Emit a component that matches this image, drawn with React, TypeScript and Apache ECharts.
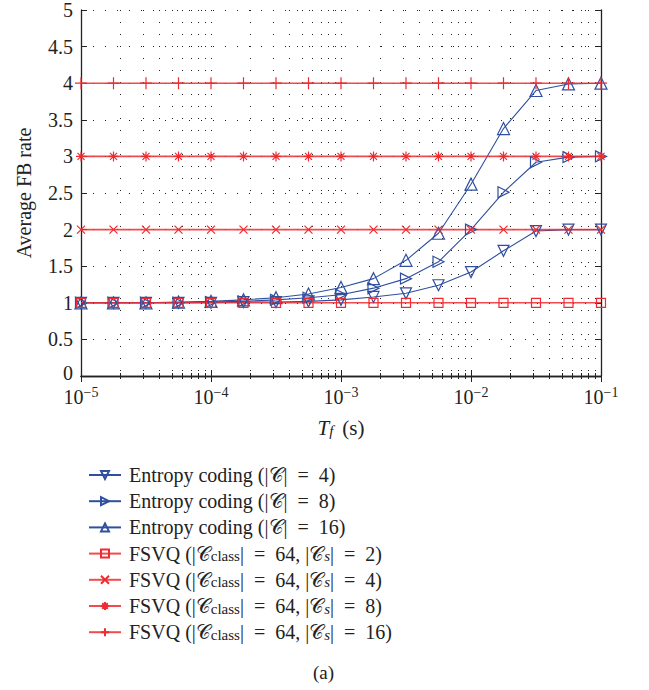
import React, { useEffect, useRef } from "react";
import * as echarts from "echarts";

// T_f (s): quarter-decade sample points
const tfValues = [
  1e-5, 1.778e-5, 3.162e-5, 5.623e-5,
  1e-4, 1.778e-4, 3.162e-4, 5.623e-4,
  1e-3, 1.778e-3, 3.162e-3, 5.623e-3,
  1e-2, 1.778e-2, 3.162e-2, 5.623e-2,
  1e-1,
];

const entropy4 = [1.0, 1.0, 1.0, 1.0, 1.0, 1.01, 1.01, 1.02, 1.04, 1.08, 1.13, 1.24, 1.42, 1.71, 1.98, 2.0, 2.0];
const entropy8 = [1.0, 1.0, 1.0, 1.0, 1.01, 1.02, 1.04, 1.07, 1.11, 1.2, 1.33, 1.56, 2.0, 2.51, 2.92, 2.99, 3.0];
const entropy16 = [1.0, 1.0, 1.0, 1.01, 1.02, 1.04, 1.07, 1.12, 1.21, 1.33, 1.58, 1.95, 2.62, 3.38, 3.9, 3.99, 4.0];
const fsvq2 = [1, 1, 1, 1, 1, 1, 1, 1, 1, 1, 1, 1, 1, 1, 1, 1, 1];
const fsvq4 = [2, 2, 2, 2, 2, 2, 2, 2, 2, 2, 2, 2, 2, 2, 2, 2, 2];
const fsvq8 = [3, 3, 3, 3, 3, 3, 3, 3, 3, 3, 3, 3, 3, 3, 3, 3, 3];
const fsvq16 = [4, 4, 4, 4, 4, 4, 4, 4, 4, 4, 4, 4, 4, 4, 4, 4, 4];

const seriesNames = [
  "Entropy coding (|𝒞| = 4)",
  "Entropy coding (|𝒞| = 8)",
  "Entropy coding (|𝒞| = 16)",
  "FSVQ (|𝒞class| = 64, |𝒞s| = 2)",
  "FSVQ (|𝒞class| = 64, |𝒞s| = 4)",
  "FSVQ (|𝒞class| = 64, |𝒞s| = 8)",
  "FSVQ (|𝒞class| = 64, |𝒞s| = 16)",
];
const legendRich = [
  "{n|Entropy coding (|𝒞| }{eq|=}{n| 4)}",
  "{n|Entropy coding (|𝒞| }{eq|=}{n| 8)}",
  "{n|Entropy coding (|𝒞| }{eq|=}{n| 16)}",
  "{n|FSVQ (|𝒞}{sub|class}{n|| }{eq|=}{n| 64, |𝒞}{subi|s}{n|| }{eq|=}{n| 2)}",
  "{n|FSVQ (|𝒞}{sub|class}{n|| }{eq|=}{n| 64, |𝒞}{subi|s}{n|| }{eq|=}{n| 4)}",
  "{n|FSVQ (|𝒞}{sub|class}{n|| }{eq|=}{n| 64, |𝒞}{subi|s}{n|| }{eq|=}{n| 8)}",
  "{n|FSVQ (|𝒞}{sub|class}{n|| }{eq|=}{n| 64, |𝒞}{subi|s}{n|| }{eq|=}{n| 16)}",
];

const BLUE = "#2f4f9f";
const RED = "#ee2b30";
const INK = "#222";
const SERIF = "'Liberation Serif', 'DejaVu Serif', serif";

const SYM_DOWN = "path://M0,0L10,0L5,9Z";
const SYM_RIGHT = "path://M0,0L9,5L0,10Z";
const SYM_X = "path://M0,0L10,10M10,0L0,10";
const SYM_STAR = "path://M5,0L5,10M0,5L10,5M1.5,1.5L8.5,8.5M8.5,1.5L1.5,8.5";
const SYM_PLUS = "path://M5,0L5,10M0,5L10,5";

function mkSeries(name: string, vals: number[], color: string, symbol: string, size: number, lw: number, opacity: number) {
  return {
    name,
    type: "line",
    data: tfValues.map((x, i) => [x, vals[i]]),
    symbol,
    symbolSize: size,
    showSymbol: true,
    lineStyle: { color, width: lw, opacity },
    itemStyle: { color: "rgba(255,255,255,0)", borderColor: color, borderWidth: 1.2 },
    emphasis: { disabled: true },
  };
}

export default function App() {
  const ref = useRef<HTMLDivElement>(null);
  useEffect(() => {
    if (!ref.current) return;
    const chart = echarts.init(ref.current, undefined, { renderer: "svg" });
    const dotted = { color: INK, width: 1, type: [1, 11] as any };
    const supLabel = (v: number) => {
      const e = Math.round(Math.log10(v));
      return `{b|10}{s|−${Math.abs(e)}}`;
    };
    chart.setOption({
      animation: false,
      grid: { left: 81, right: 48, top: 6, bottom: 314, containLabel: false },
      xAxis: [
        {
          type: "log",
          logBase: 10,
          min: 1e-5,
          max: 1e-1,
          interval: 1,
          position: "bottom",
          axisLine: { lineStyle: { color: INK, width: 1.3 } },
          axisTick: { inside: true, length: 6, lineStyle: { color: INK } },
          minorTick: { show: true, splitNumber: 9, length: 3, lineStyle: { color: INK } },
          splitLine: { show: true, lineStyle: dotted },
          minorSplitLine: { show: true, lineStyle: dotted },
          axisLabel: {
            formatter: supLabel,
            margin: 9,
            rich: {
              b: { fontFamily: SERIF, fontSize: 20, color: INK, lineHeight: 22, verticalAlign: "bottom" },
              s: { fontFamily: SERIF, fontSize: 14, color: INK, lineHeight: 14, verticalAlign: "top" },
            },
          },
          name: "{i|T}{f|f}{n|(s)}",
          nameLocation: "middle",
          nameGap: 40,
          nameTextStyle: {
            rich: {
              i: { fontFamily: SERIF, fontStyle: "italic", fontSize: 21, color: INK, lineHeight: 22, verticalAlign: "bottom" },
              f: { fontFamily: SERIF, fontStyle: "italic", fontSize: 15, color: INK, lineHeight: 10, verticalAlign: "bottom" },
              n: { fontFamily: SERIF, fontSize: 21, color: INK, lineHeight: 22, verticalAlign: "bottom", padding: [0, 0, 0, 9] },
            },
          },
        },
        {
          type: "log",
          logBase: 10,
          min: 1e-5,
          max: 1e-1,
          interval: 1,
          position: "top",
          axisLine: { lineStyle: { color: INK, width: 1.3 } },
          axisTick: { inside: true, length: 6, lineStyle: { color: INK } },
          minorTick: { show: true, splitNumber: 9, length: 3, lineStyle: { color: INK } },
          splitLine: { show: false },
          axisLabel: { show: false },
        },
      ],
      yAxis: [
        {
          type: "value",
          min: 0,
          max: 5,
          interval: 0.5,
          position: "left",
          axisLine: { show: true, lineStyle: { color: INK, width: 1.3 } },
          axisTick: { show: true, inside: true, length: 6, lineStyle: { color: INK } },
          splitLine: { show: true, lineStyle: dotted },
          axisLabel: {
            fontFamily: SERIF,
            fontSize: 20,
            color: INK,
            margin: 8,
            lineHeight: 14,
            formatter: (v: number) => (v === 0 ? "{z|0}" : String(v)),
            rich: { z: { fontFamily: SERIF, fontSize: 20, color: INK, lineHeight: 14, padding: [0, 0, 7, 0] } },
          },
          name: "Average FB rate",
          nameLocation: "middle",
          nameGap: 47,
          nameTextStyle: { fontFamily: SERIF, fontSize: 20, color: INK },
        },
        {
          type: "value",
          min: 0,
          max: 5,
          interval: 0.5,
          position: "right",
          axisLine: { show: true, lineStyle: { color: INK, width: 1.3 } },
          axisTick: { show: true, inside: true, length: 6, lineStyle: { color: INK } },
          splitLine: { show: false },
          axisLabel: { show: false },
        },
      ],
      legend: {
        orient: "vertical",
        left: 83,
        top: 460,
        itemWidth: 32,
        itemHeight: 10,
        itemGap: 6.2,
        selectedMode: false,
        data: seriesNames,
        formatter: (name: string) => legendRich[seriesNames.indexOf(name)],
        textStyle: {
          padding: [0, 0, 0, 3],
          rich: {
            n: { fontFamily: SERIF, fontSize: 20, color: INK, lineHeight: 20, verticalAlign: "bottom" },
            eq: { fontFamily: SERIF, fontSize: 20, color: INK, lineHeight: 20, verticalAlign: "bottom", padding: [0, 5, 0, 5] },
            sub: { fontFamily: SERIF, fontSize: 15, color: INK, lineHeight: 10, verticalAlign: "bottom" },
            subi: { fontFamily: SERIF, fontStyle: "italic", fontSize: 15, color: INK, lineHeight: 10, verticalAlign: "bottom" },
          },
        },
      },
      graphic: [
        {
          type: "text",
          left: 313,
          top: 663,
          style: { text: "(a)", fontFamily: SERIF, fontSize: 19, fill: INK },
        },
      ],
      series: [
        mkSeries(seriesNames[0], entropy4, BLUE, SYM_DOWN, 11, 1.1, 1),
        mkSeries(seriesNames[1], entropy8, BLUE, SYM_RIGHT, 11, 1.1, 1),
        mkSeries(seriesNames[2], entropy16, BLUE, "triangle", 12, 1.1, 1),
        mkSeries(seriesNames[3], fsvq2, RED, "rect", 9, 1.6, 0.85),
        mkSeries(seriesNames[4], fsvq4, RED, SYM_X, 8, 1.6, 0.85),
        mkSeries(seriesNames[5], fsvq8, RED, SYM_STAR, 10, 1.6, 0.85),
        mkSeries(seriesNames[6], fsvq16, RED, SYM_PLUS, 12, 1.6, 0.85),
      ],
    });
    return () => chart.dispose();
  }, []);
  return <div ref={ref} style={{ width: 649, height: 690, position: "absolute", left: 0, top: 0 }} />;
}
